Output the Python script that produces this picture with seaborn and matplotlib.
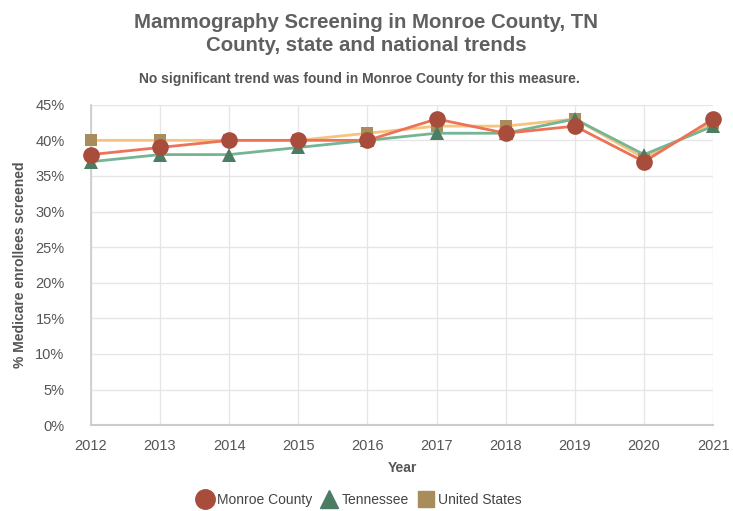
import matplotlib
matplotlib.use("Agg")
import matplotlib.pyplot as plt
import seaborn as sns
import pandas as pd
from matplotlib.lines import Line2D
from matplotlib.ticker import FuncFormatter

years = [2012, 2013, 2014, 2015, 2016, 2017, 2018, 2019, 2020, 2021]
monroe = [38, 39, 40, 40, 40, 43, 41, 42, 37, 43]
tennessee = [37, 38, 38, 39, 40, 41, 41, 43, 38, 42]
united_states = [40, 40, 40, 40, 41, 42, 42, 43, 37.5, 42.5]
series_names = ["Monroe County", "Tennessee", "United States"]

sns.set_theme(style="white")
plt.rcParams['font.family'] = ['Liberation Sans', 'DejaVu Sans']

fig = plt.figure(figsize=(7.33, 5.11), dpi=100)
ax = fig.add_axes([0.124, 0.168, 0.849, 0.627])

styles = {
    "United States": dict(line="#f6c47e", mk="#a88c5c", marker="s", ms=9),
    "Tennessee": dict(line="#74b594", mk="#4b7d63", marker="^", ms=10),
    "Monroe County": dict(line="#ec7358", mk="#a84c3b", marker="o", ms=12),
}
data = {"Monroe County": monroe, "Tennessee": tennessee, "United States": united_states}

for name in ["United States", "Tennessee", "Monroe County"]:
    st = styles[name]
    df = pd.DataFrame({"Year": years, "Value": data[name]})
    sns.lineplot(data=df, x="Year", y="Value", ax=ax, color=st["line"], linewidth=2,
                 marker=st["marker"], markersize=st["ms"], markerfacecolor=st["mk"],
                 markeredgecolor=st["mk"], markeredgewidth=0, zorder=3)

ax.set_xlim(2012, 2021)
ax.set_ylim(0, 45)
ax.set_xticks(years)
ax.set_yticks(range(0, 46, 5))
ax.yaxis.set_major_formatter(FuncFormatter(lambda v, p: f"{int(v)}%"))
ax.grid(True, color="#e6e6e6", linewidth=1)
for s in ["top", "right"]:
    ax.spines[s].set_visible(False)
ax.spines["left"].set_color("#cccccc")
ax.spines["bottom"].set_color("#cccccc")
ax.spines["bottom"].set_linewidth(1.5)
ax.tick_params(axis="both", labelsize=10.5, labelcolor="#555555", color="#e6e6e6",
               length=7, width=1, pad=3)
ax.tick_params(axis="y", pad=12)
ax.set_xlabel("Year", fontsize=10, fontweight="bold", color="#555555", labelpad=6)
ax.set_ylabel("% Medicare enrollees screened", fontsize=10, fontweight="bold", color="#555555", labelpad=6)
for l in ax.lines:
    l.set_clip_on(False)

fig.text(0.5, 0.975, "Mammography Screening in Monroe County, TN\nCounty, state and national trends",
         ha="center", va="top", fontsize=14.7, fontweight="bold", color="#606060", linespacing=1.25)
fig.text(0.49, 0.845, "No significant trend was found in Monroe County for this measure.",
         ha="center", va="center", fontsize=10, fontweight="bold", color="#555555")

handles = [
    Line2D([], [], linestyle="none", marker="o", markersize=14, color=styles["Monroe County"]["mk"]),
    Line2D([], [], linestyle="none", marker="^", markersize=13, color=styles["Tennessee"]["mk"]),
    Line2D([], [], linestyle="none", marker="s", markersize=11, color=styles["United States"]["mk"]),
]
leg = fig.legend(handles, series_names, loc="center", bbox_to_anchor=(0.49, 0.022), ncol=3,
                 frameon=False, fontsize=10, handletextpad=0.3, columnspacing=0.6, handlelength=1.2)
for t in leg.get_texts():
    t.set_color("#444444")

fig.savefig("out.png", dpi=100, facecolor="white")
